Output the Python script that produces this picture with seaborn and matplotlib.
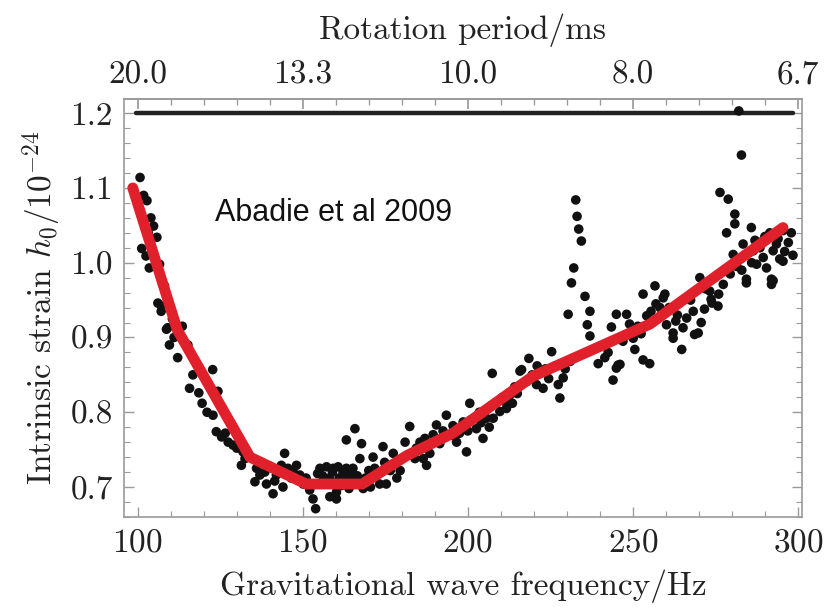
import matplotlib
matplotlib.use('Agg')
import matplotlib.pyplot as plt
import seaborn as sns
from matplotlib.ticker import MultipleLocator, FormatStrFormatter

# measured strain points (Hz, 1e-24)
freq = [100.7, 101.2, 101.8, 102.5, 102.8, 103.2, 103.5, 104.0, 104.8, 105.8,
        106.1, 106.6, 107.1, 107.2, 108.1, 108.7, 109.1, 109.6, 110.5, 111.0,
        112.1, 113.5, 115.2, 115.7, 116.7, 118.5, 119.5, 121.0, 122.7, 122.8,
        123.8, 124.3, 125.4, 126.5, 127.4, 128.9, 130.0, 131.4, 131.9, 133.5,
        134.9, 135.5, 136.0, 137.5, 138.5, 139.0, 140.0, 141.0, 142.0, 143.5,
        144.0, 144.5, 145.5, 146.5, 148.1, 149.1, 150.1, 152.1, 153.1, 153.9,
        155.2, 156.0, 157.2, 158.0, 158.2, 159.2, 160.2, 160.2, 160.7, 161.7,
        162.2, 162.5, 163.2, 163.2, 164.0, 165.2, 165.8, 166.5, 167.3, 167.8,
        168.3, 170.0, 170.5, 171.3, 172.0, 173.3, 174.3, 175.3, 176.5, 177.4,
        178.5, 181.0, 182.4, 183.0, 184.4, 185.5, 186.5, 187.0, 187.5, 188.5,
        189.5, 190.5, 191.5, 192.5, 193.5, 194.5, 195.5, 196.6, 197.5, 198.6,
        199.6, 200.6, 201.0, 202.6, 203.5, 204.6, 205.6, 206.5, 207.4, 207.7,
        208.5, 209.7, 210.5, 211.7, 212.7, 213.5, 214.2, 215.0, 215.8, 216.3,
        217.8, 218.5, 219.5, 220.8, 221.0, 221.8, 222.8, 223.5, 224.5, 225.4,
        226.5, 227.4, 227.9, 228.9, 229.5, 230.4, 231.0, 231.4, 232.1, 232.7,
        233.1, 233.6, 234.4, 235.5, 236.2, 237.0, 237.0, 239.5, 241.5, 242.5,
        243.5, 244.0, 245.0, 245.0, 245.5, 246.1, 247.0, 248.1, 248.5, 250.1,
        250.6, 251.5, 252.5, 253.1, 253.1, 254.2, 255.1, 255.5, 256.7, 257.5,
        258.2, 259.2, 259.7, 260.2, 261.0, 262.2, 262.2, 263.5, 264.8, 265.2,
        266.3, 267.5, 268.3, 268.7, 269.8, 270.3, 270.7, 271.7, 272.0, 273.3,
        273.7, 274.0, 275.8, 276.4, 277.4, 278.4, 278.9, 279.5, 280.4, 280.9,
        280.9, 281.5, 282.1, 282.9, 283.0, 283.4, 284.4, 284.4, 285.9, 286.5,
        287.0, 287.5, 288.5, 289.5, 290.0, 290.5, 291.5, 292.0, 292.0, 292.5,
        292.5, 293.5, 294.5, 295.5, 295.5, 296.0, 297.1, 298.0, 298.5,
        # extra points in the dense parts of the cloud
        132.5, 137.0, 141.5, 147.0, 151.0, 154.5, 156.5, 159.0, 161.0, 164.5,
        169.0, 171.8, 174.8, 179.5, 184.0, 190.0, 196.0, 200.0, 204.0, 211.0,
        249.0, 257.0, 263.0, 276.0, 286.0, 289.0, 294.0]
strain = [1.114, 1.019, 1.090, 1.009, 1.083, 1.040, 0.993, 1.060, 1.049, 1.034,
          0.946, 0.998, 0.935, 0.942, 0.969, 0.911, 0.913, 0.890, 0.925, 0.900,
          0.873, 0.915, 0.890, 0.832, 0.850, 0.826, 0.812, 0.800, 0.857, 0.796,
          0.774, 0.828, 0.767, 0.772, 0.760, 0.756, 0.752, 0.729, 0.747, 0.742,
          0.738, 0.707, 0.725, 0.733, 0.720, 0.704, 0.728, 0.691, 0.716, 0.729,
          0.700, 0.745, 0.725, 0.712, 0.729, 0.716, 0.704, 0.696, 0.684, 0.671,
          0.725, 0.715, 0.727, 0.712, 0.687, 0.725, 0.693, 0.684, 0.727, 0.702,
          0.720, 0.712, 0.725, 0.763, 0.698, 0.725, 0.778, 0.715, 0.738, 0.758,
          0.698, 0.722, 0.700, 0.740, 0.716, 0.704, 0.754, 0.704, 0.722, 0.745,
          0.712, 0.760, 0.781, 0.745, 0.752, 0.760, 0.738, 0.765, 0.729, 0.745,
          0.770, 0.783, 0.758, 0.775, 0.796, 0.770, 0.782, 0.760, 0.772, 0.787,
          0.747, 0.812, 0.790, 0.778, 0.800, 0.765, 0.792, 0.780, 0.852, 0.792,
          0.812, 0.801, 0.820, 0.805, 0.823, 0.812, 0.834, 0.825, 0.855, 0.857,
          0.841, 0.872, 0.850, 0.837, 0.862, 0.852, 0.832, 0.858, 0.845, 0.881,
          0.862, 0.837, 0.819, 0.846, 0.858, 0.931, 0.868, 0.973, 0.993, 1.084,
          1.062, 1.045, 1.029, 0.955, 0.917, 0.935, 0.902, 0.865, 0.873, 0.880,
          0.914, 0.843, 0.859, 0.931, 0.863, 0.864, 0.895, 0.931, 0.905, 0.899,
          0.884, 0.915, 0.905, 0.870, 0.958, 0.929, 0.865, 0.935, 0.969, 0.925,
          0.940, 0.953, 0.958, 0.917, 0.940, 0.906, 0.899, 0.930, 0.884, 0.913,
          0.926, 0.950, 0.935, 0.904, 0.906, 0.980, 0.920, 0.938, 0.965, 0.962,
          0.951, 0.946, 0.942, 1.094, 0.971, 1.040, 1.085, 0.985, 1.011, 1.065,
          1.052, 0.995, 1.203, 1.144, 0.990, 1.025, 0.978, 0.973, 1.047, 1.016,
          1.030, 0.998, 1.020, 1.007, 1.035, 0.993, 1.040, 0.978, 0.971, 1.016,
          0.976, 1.025, 1.005, 1.043, 1.002, 1.015, 1.027, 1.040, 1.010,
          0.738, 0.716, 0.708, 0.722, 0.712, 0.718, 0.705, 0.720, 0.712, 0.716,
          0.712, 0.725, 0.733, 0.722, 0.738, 0.762, 0.768, 0.775, 0.786, 0.815,
          0.918, 0.945, 0.922, 0.958, 1.000, 1.028, 1.032]

# red trend line
fit_freq = [98.5, 112.0, 134.0, 151.0, 168.0, 181.5, 195.5, 219.7, 255.2, 295.5]
fit_strain = [1.100, 0.910, 0.740, 0.704, 0.704, 0.742, 0.772, 0.848, 0.918, 1.047]

# upper limit line
limit_freq = [99.6, 298.5]
limit_strain = [1.2, 1.2]

# top axis: rotation period in ms for each frequency tick
freq_ticks = [100, 150, 200, 250, 300]
period_labels = ['20.0', '13.3', '10.0', '8.0', '6.7']

sns.set_theme(style='ticks')
plt.rcParams['font.family'] = ['cmr10', 'DejaVu Serif']
plt.rcParams['mathtext.fontset'] = 'cm'
plt.rcParams['axes.formatter.use_mathtext'] = True

fs = 24
txt = '#222222'
gray = '#9a9a9a'

fig = plt.figure(figsize=(8.37, 6.11), dpi=100)
ax = fig.add_axes([0.148, 0.154, 0.810, 0.684])

sns.lineplot(x=limit_freq, y=limit_strain, color='#222222', lw=3.2, ax=ax, zorder=2)
sns.scatterplot(x=freq, y=strain, color='#111111', s=48, edgecolor='none', ax=ax, zorder=3)
sns.lineplot(x=fit_freq, y=fit_strain, color='#e0202b', lw=7.8, sort=False, ax=ax,
             zorder=4, solid_joinstyle='miter')

ax.set_xlim(95.8, 301.2)
ax.set_ylim(0.66, 1.219)
ax.set_xticks(freq_ticks)
ax.xaxis.set_minor_locator(MultipleLocator(10))
ax.yaxis.set_major_locator(MultipleLocator(0.1))
ax.yaxis.set_minor_locator(MultipleLocator(0.02))
ax.yaxis.set_major_formatter(FormatStrFormatter('%.1f'))

for s in ax.spines.values():
    s.set_color(gray)
    s.set_linewidth(1.2)
ax.tick_params(which='both', direction='in', color=gray, right=True,
               labelsize=fs, labelcolor=txt)
ax.tick_params(which='major', length=7, width=1.0, pad=8)
ax.tick_params(which='minor', length=4, width=0.8)
ax.tick_params(axis='x', which='both', top=False)

top = ax.secondary_xaxis('top')
top.set_xticks(freq_ticks)
top.set_xticklabels(period_labels)
top.xaxis.set_minor_locator(MultipleLocator(10))
top.tick_params(which='both', direction='in', color=gray, labelsize=fs,
                labelcolor=txt)
top.tick_params(which='major', length=7, pad=7)
top.tick_params(which='minor', length=4)
top.spines['top'].set_color(gray)
top.set_xlabel('Rotation period/ms', fontsize=fs, color=txt, labelpad=15)

ax.set_xlabel('Gravitational wave frequency/Hz', fontsize=fs, color=txt, labelpad=9)
ax.set_ylabel('Intrinsic strain $h_0/10^{-24}$', fontsize=fs, color=txt, labelpad=5)

ax.text(123.3, 1.067, 'Abadie et al 2009', fontsize=22, color='#111111',
        family=['Liberation Sans', 'DejaVu Sans'], ha='left', va='center')

fig.savefig('out.png', dpi=100)
